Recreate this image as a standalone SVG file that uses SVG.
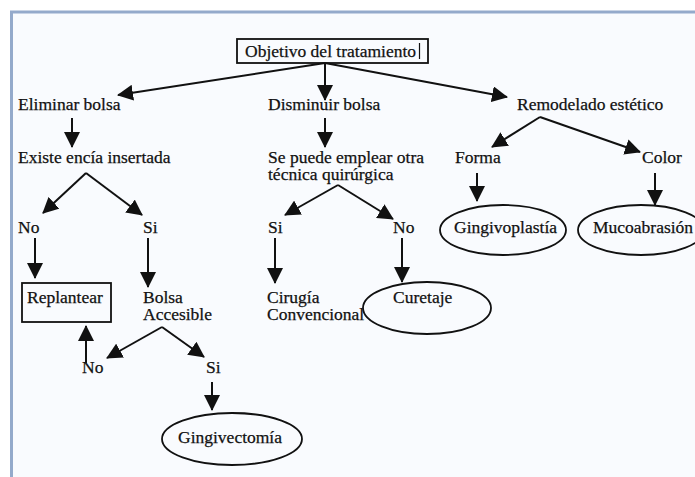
<svg xmlns="http://www.w3.org/2000/svg" width="695" height="477" viewBox="0 0 695 477">
<defs>
<style>
text{font-family:"Liberation Serif","Times New Roman",serif;font-size:17.5px;fill:#111;stroke:#111;stroke-width:0.25;}
.c{stroke:#111;stroke-width:2;fill:none;}
.box{stroke:#111;stroke-width:1.8;fill:none;}
</style>
<marker id="ah" viewBox="0 0 16 16" refX="15" refY="8" markerWidth="16" markerHeight="16" markerUnits="userSpaceOnUse" orient="auto">
<path d="M0,0 L16,8 L0,16 Z" fill="#111"/>
</marker>
</defs>
<rect x="0" y="0" width="695" height="477" fill="#ffffff"/>
<rect x="11.5" y="12" width="700" height="480" fill="#f9fbfe" stroke="#94aacb" stroke-width="3"/>

<g id="connectors">
<path class="c" marker-end="url(#ah)" d="M325,63 L118,95"/>
<path class="c" marker-end="url(#ah)" d="M325,63 L325,100"/>
<path class="c" marker-end="url(#ah)" d="M325,63 L507,97"/>
<path class="c" marker-end="url(#ah)" d="M72,118 L72,147"/>
<path class="c" marker-end="url(#ah)" d="M325,118 L325,147"/>
<path class="c" marker-end="url(#ah)" d="M540,117 L492,147"/>
<path class="c" marker-end="url(#ah)" d="M540,117 L640,152"/>
<path class="c" marker-end="url(#ah)" d="M86,173 L43,213"/>
<path class="c" marker-end="url(#ah)" d="M86,173 L142,215"/>
<path class="c" marker-end="url(#ah)" d="M338,185 L285,215"/>
<path class="c" marker-end="url(#ah)" d="M338,185 L393,219"/>
<path class="c" marker-end="url(#ah)" d="M477,173 L477,201"/>
<path class="c" marker-end="url(#ah)" d="M655,173 L655,205"/>
<path class="c" marker-end="url(#ah)" d="M35,238 L35,278"/>
<path class="c" marker-end="url(#ah)" d="M148,238 L148,287"/>
<path class="c" marker-end="url(#ah)" d="M275,238 L275,283"/>
<path class="c" marker-end="url(#ah)" d="M402,238 L402,282"/>
<path class="c" marker-end="url(#ah)" d="M162,327 L107,358"/>
<path class="c" marker-end="url(#ah)" d="M162,327 L204,357"/>
<path class="c" marker-end="url(#ah)" d="M86,363 L86,326"/>
<path class="c" marker-end="url(#ah)" d="M212,382 L212,410"/>
</g>

<g id="n-objetivo">
<rect class="box" x="237" y="39" width="191" height="24"/>
<text x="245" y="57">Objetivo del tratamiento</text>
<line x1="419.5" y1="43" x2="419.5" y2="59" stroke="#111" stroke-width="1.2"/>
</g>
<g id="n-eliminar"><text x="18" y="110">Eliminar bolsa</text></g>
<g id="n-disminuir"><text x="268" y="110">Disminuir bolsa</text></g>
<g id="n-remodelado"><text x="517" y="110">Remodelado estético</text></g>
<g id="n-existe"><text x="18" y="163">Existe encía insertada</text></g>
<g id="n-sepuede"><text x="268" y="163">Se puede emplear otra</text><text x="268" y="180">técnica quirúrgica</text></g>
<g id="n-forma"><text x="455" y="163">Forma</text></g>
<g id="n-color"><text x="642" y="163">Color</text></g>
<g id="n-no1"><text x="18" y="233">No</text></g>
<g id="n-si1"><text x="143" y="233">Si</text></g>
<g id="n-si2"><text x="268" y="233">Si</text></g>
<g id="n-no2"><text x="393" y="233">No</text></g>
<g id="n-gingivoplastia"><ellipse class="box" cx="503" cy="230" rx="63" ry="25"/><text x="454" y="233">Gingivoplastía</text></g>
<g id="n-mucoabrasion"><ellipse class="box" cx="641" cy="230" rx="63" ry="25"/><text x="593" y="233">Mucoabrasión</text></g>
<g id="n-replantear"><rect class="box" x="22" y="283" width="89" height="39"/><text x="27" y="303">Replantear</text></g>
<g id="n-bolsa"><text x="143" y="303">Bolsa</text><text x="143" y="320">Accesible</text></g>
<g id="n-cirugia"><text x="267" y="303">Cirugía</text><text x="267" y="320">Convencional</text></g>
<g id="n-curetaje"><ellipse class="box" cx="427" cy="308" rx="64" ry="26"/><text x="393" y="303">Curetaje</text></g>
<g id="n-no3"><text x="82" y="373">No</text></g>
<g id="n-si3"><text x="206" y="373">Si</text></g>
<g id="n-gingivectomia"><ellipse class="box" cx="232" cy="439" rx="70" ry="26"/><text x="178" y="443">Gingivectomía</text></g>
</svg>
